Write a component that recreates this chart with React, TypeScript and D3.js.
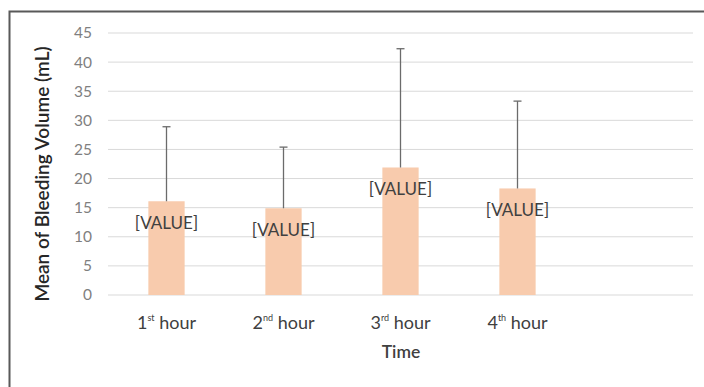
import React from "react";
import * as d3 from "d3";

const categories = ["1", "2", "3", "4", ""];
const ordinals = ["st", "nd", "rd", "th", ""];
const means = [16.1, 14.9, 21.9, 18.3];
const upper = [28.9, 25.4, 42.3, 33.3];
const yTicks = [0, 5, 10, 15, 20, 25, 30, 35, 40, 45];

const W = 704, H = 387;
const left = 108, right = 693, top = 33, bottom = 295;
const FONT = "Lato, 'Open Sans', sans-serif";

export default function App() {
  const keys = categories.map((c, i) => c + "_" + i);
  const x = d3.scaleBand<string>().domain(keys).range([left, right]).paddingInner(0).paddingOuter(0);
  const y = d3.scaleLinear().domain([0, 45]).range([bottom, top]);
  const bw = x.bandwidth() * 0.31;
  return (
    <svg width={W} height={H} style={{ position: "absolute", left: 0, top: 0, fontFamily: FONT }}>
      <rect x={0} y={0} width={W} height={H} fill="#fff" />
      <rect x={9.5} y={11.5} width={W + 10} height={H + 10} fill="none" stroke="#595959" strokeWidth={2} />
      {yTicks.map((t) => (
        <g key={t}>
          <line x1={left} x2={right} y1={y(t)} y2={y(t)} stroke="#d9d9d9" strokeWidth={1} />
          <text x={92} y={y(t)} dy="0.35em" textAnchor="end" fontSize={15.5} fill="#7f7f7f">{t}</text>
        </g>
      ))}
      {means.map((m, i) => {
        const cx = (x(keys[i]) as number) + x.bandwidth() / 2;
        return (
          <g key={i}>
            <rect x={cx - bw / 2} y={y(m)} width={bw} height={y(0) - y(m)} fill="#F8CBAD" />
            <line x1={cx} x2={cx} y1={y(m)} y2={y(upper[i])} stroke="#6b6b6b" strokeWidth={1.3} />
            <line x1={cx - 4} x2={cx + 4} y1={y(upper[i])} y2={y(upper[i])} stroke="#6b6b6b" strokeWidth={1.3} />
            <text x={cx} y={y(m) + 22} dy="0.35em" textAnchor="middle" fontSize={17} fill="#404040">[VALUE]</text>
          </g>
        );
      })}
      {categories.map((c, i) => {
        if (!c) return null;
        const cx = (x(keys[i]) as number) + x.bandwidth() / 2;
        return (
          <text key={i} x={cx} y={329} textAnchor="middle" fontSize={18} fill="#404040">
            {c}
            <tspan fontSize={9} dy={-8}>{ordinals[i]}</tspan>
            <tspan dy={8}>{" hour"}</tspan>
          </text>
        );
      })}
      <text x={401} y={358} textAnchor="middle" fontSize={17.5} fontWeight={600} fill="#404040">Time</text>
      <text transform={`translate(49,174) rotate(-90)`} textAnchor="middle" fontSize={19} fontWeight={600} fill="#262626">Mean of Bleeding Volume (mL)</text>
    </svg>
  );
}
